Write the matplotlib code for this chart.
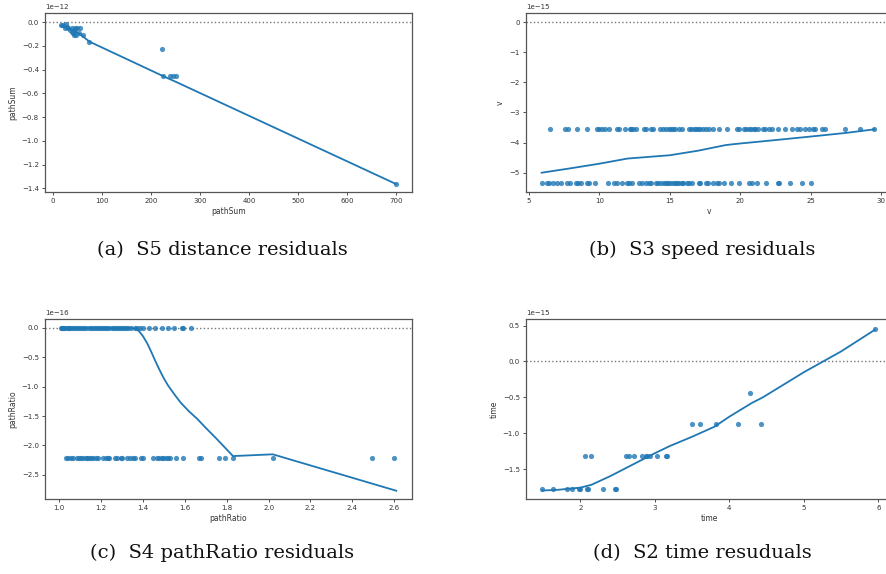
import matplotlib
matplotlib.use("Agg")
import matplotlib.pyplot as plt

# ---- data (residuals, in units of the offset shown on each axis) ----
# (a) S5 distance residuals, scale 1e-12
a_x = [17, 21.8, 27, 28.6, 25, 32, 35, 38.7, 42, 43.5, 47.6, 38.7, 45.5, 50.3,
       55.7, 53, 45.5, 62.5, 74.8, 222, 225.7, 239.3, 244.7, 251.5, 698.8]
a_y = [-0.025, -0.025, -0.02, -0.04, -0.053, -0.053, -0.067, -0.08, -0.095, -0.11,
       -0.11, -0.053, -0.053, -0.053, -0.053, -0.095, -0.067, -0.11, -0.165, -0.227,
       -0.454, -0.454, -0.454, -0.454, -1.361]
a_fit_x = [17, 30, 45, 55, 75, 225, 252, 699]
a_fit_y = [-0.03, -0.05, -0.08, -0.1, -0.165, -0.455, -0.505, -1.362]

# (b) S3 speed residuals, scale 1e-15
b_hi_x = [6.51, 7.55, 7.77, 8.43, 9.12, 9.82, 10.01, 10.2, 10.42, 10.65, 11.22, 11.36,
          11.84, 12.17, 12.28, 12.4, 12.62, 13.16, 13.28, 13.68, 13.8, 14.32, 14.51,
          14.7, 14.93, 15.12, 15.22, 15.38, 15.64, 15.88, 16.35, 16.54, 16.71, 16.83,
          16.99, 17.13, 17.35, 17.58, 17.82, 18.06, 18.48, 19.07, 19.76, 19.9, 20.3,
          20.42, 20.61, 20.78, 20.96, 21.08, 21.25, 21.65, 21.79, 22.03, 22.27, 22.67,
          23.19, 23.66, 24.02, 24.28, 24.63, 24.87, 25.15, 25.32, 25.79, 26.03, 27.45,
          28.49, 29.53]
b_hi_y = -3.54
b_lo_x = [5.9, 6.28, 6.42, 6.7, 6.99, 7.29, 7.7, 7.93, 8.36, 8.48, 8.71, 9.12, 9.26,
          9.66, 10.61, 11.01, 11.24, 11.6, 11.95, 12.1, 12.31, 12.85, 13.02, 13.28,
          13.51, 13.68, 14.04, 14.2, 14.39, 14.56, 14.74, 14.86, 15.05, 15.22, 15.38,
          15.52, 15.69, 15.86, 15.97, 16.23, 16.4, 16.57, 17.06, 17.18, 17.61, 17.75,
          18.06, 18.36, 18.5, 18.88, 19.36, 19.9, 20.61, 20.85, 21.18, 21.84, 22.72,
          22.79, 23.57, 24.37, 25.03]
b_lo_y = -5.33
b_fit_x = [5.9, 8, 10, 12, 15, 17, 19, 20, 22, 25, 27.5, 29.53]
b_fit_y = [-5.0, -4.85, -4.7, -4.53, -4.42, -4.27, -4.08, -4.03, -3.94, -3.8, -3.68, -3.56]

# (c) S4 pathRatio residuals, scale 1e-16
c_hi_x = [1.01, 1.015, 1.02, 1.025, 1.03, 1.04, 1.045, 1.05, 1.06, 1.07, 1.08, 1.09,
          1.1, 1.11, 1.12, 1.13, 1.14, 1.15, 1.16, 1.17, 1.18, 1.19, 1.2, 1.21, 1.22,
          1.23, 1.24, 1.25, 1.26, 1.27, 1.28, 1.29, 1.3, 1.31, 1.32, 1.33, 1.345, 1.36,
          1.37, 1.385, 1.4, 1.43, 1.457, 1.49, 1.52, 1.55, 1.585, 1.59, 1.627]
c_hi_y = 0.0
c_lo_x = [1.03, 1.043, 1.056, 1.067, 1.083, 1.094, 1.104, 1.115, 1.126, 1.134, 1.143,
          1.151, 1.162, 1.174, 1.186, 1.21, 1.223, 1.231, 1.239, 1.266, 1.274, 1.293,
          1.301, 1.326, 1.338, 1.354, 1.361, 1.39, 1.401, 1.449, 1.465, 1.478, 1.489,
          1.497, 1.508, 1.518, 1.529, 1.557, 1.592, 1.669, 1.677, 1.764, 1.791, 1.831,
          2.022, 2.495, 2.6]
c_lo_y = -2.216
c_fit_x = [1.01, 1.2, 1.34, 1.36, 1.38, 1.4, 1.42, 1.44, 1.46, 1.48, 1.5, 1.52, 1.55,
           1.58, 1.62, 1.66, 1.7, 1.75, 1.83, 2.02, 2.61]
c_fit_y = [0.0, 0.0, 0.0, -0.01, -0.05, -0.14, -0.26, -0.41, -0.57, -0.72, -0.86, -0.98,
           -1.13, -1.27, -1.42, -1.55, -1.7, -1.88, -2.18, -2.15, -2.77]

# (d) S2 time residuals, scale 1e-15
d_x = [1.49, 1.633, 1.82, 1.89, 1.98, 2.0, 2.09, 2.10, 2.30, 2.46, 2.48,
       2.067, 2.143, 2.61, 2.65, 2.72, 2.83, 2.88, 2.90, 2.93, 3.03, 3.15, 3.16,
       3.50, 3.61, 3.82, 4.11, 4.43, 4.28, 5.95]
d_y = [-1.779] * 11 + [-1.323] * 12 + [-0.877] * 5 + [-0.435, 0.449]
d_fit_x = [1.49, 1.7, 2.0, 2.15, 2.4, 2.7, 3.0, 3.2, 3.5, 3.8, 4.0, 4.3, 4.45, 5.0, 5.5, 5.95]
d_fit_y = [-1.80, -1.79, -1.76, -1.72, -1.6, -1.44, -1.28, -1.18, -1.05, -0.91, -0.77,
           -0.58, -0.5, -0.15, 0.14, 0.44]

captions = ["(a)  S5 distance residuals", "(b)  S3 speed residuals",
            "(c)  S4 pathRatio residuals", "(d)  S2 time resuduals"]

BLUE = "#1f77b4"
GREY = "#555555"

fig = plt.figure(figsize=(8.86, 5.74), dpi=100)


def resid_panel(rect, xs, ys, fx, fy, scale, xlim, ylim, xticks, yticks, label):
    ax = fig.add_axes(rect)
    ax.scatter(xs, [y * scale for y in ys], s=14, color=BLUE, alpha=0.8,
               linewidths=0, zorder=3)
    ax.plot(fx, [y * scale for y in fy], color=BLUE, lw=1.3, zorder=4)
    ax.axhline(0, color="#777777", ls=":", lw=1, zorder=2)
    ax.set_xlim(*xlim)
    ax.set_ylim(ylim[0] * scale, ylim[1] * scale)
    ax.set_xticks(xticks)
    ax.set_yticks([t * scale for t in yticks])
    ax.set_xlabel(label, fontsize=5.5, color="#333333", labelpad=2)
    ax.set_ylabel(label, fontsize=5.5, color="#333333", labelpad=3)
    ax.tick_params(labelsize=5, colors="#333333", length=2.5, width=0.6, pad=2)
    ax.yaxis.get_offset_text().set_fontsize(5)
    ax.yaxis.get_offset_text().set_color("#333333")
    for sp in ax.spines.values():
        sp.set_color(GREY)
        sp.set_linewidth(0.9)
    return ax


resid_panel([0.0508, 0.6655, 0.4142, 0.3118], a_x, a_y, a_fit_x, a_fit_y, 1e-12,
            (-15.7, 732), (-1.43, 0.076), range(0, 701, 100),
            [0.0, -0.2, -0.4, -0.6, -0.8, -1.0, -1.2, -1.4], "pathSum")

resid_panel([0.5937, 0.6655, 0.4142, 0.3118],
            b_hi_x + b_lo_x, [b_hi_y] * len(b_hi_x) + [b_lo_y] * len(b_lo_x),
            b_fit_x, b_fit_y, 1e-15,
            (4.79, 30.86), (-5.64, 0.30), [5, 10, 15, 20, 25, 30],
            [0, -1, -2, -3, -4, -5], "v")

resid_panel([0.0508, 0.1307, 0.4142, 0.3136],
            c_hi_x + c_lo_x, [c_hi_y] * len(c_hi_x) + [c_lo_y] * len(c_lo_x),
            c_fit_x, c_fit_y, 1e-16,
            (0.932, 2.685), (-2.91, 0.153),
            [1.0, 1.2, 1.4, 1.6, 1.8, 2.0, 2.2, 2.4, 2.6],
            [0.0, -0.5, -1.0, -1.5, -2.0, -2.5], "pathRatio")

resid_panel([0.5937, 0.1307, 0.4142, 0.3136], d_x, d_y, d_fit_x, d_fit_y, 1e-15,
            (1.271, 6.197), (-1.918, 0.593), [2, 3, 4, 5, 6],
            [0.5, 0.0, -0.5, -1.0, -1.5], "time")

cap_pos = [(0.2506, 0.5645), (0.7923, 0.5645), (0.2506, 0.0366), (0.7923, 0.0366)]
for (cx, cy), text in zip(cap_pos, captions):
    fig.text(cx, cy, text, ha="center", va="center", fontsize=14,
             family="DejaVu Serif", color="#111111")

fig.savefig("out.png", dpi=100)
